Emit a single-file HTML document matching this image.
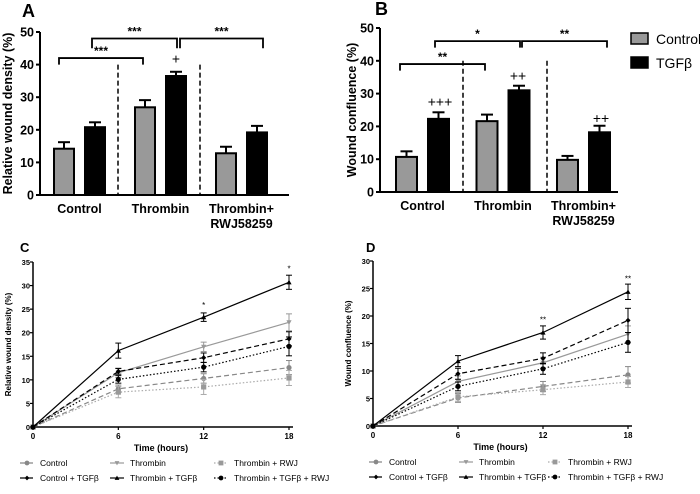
<!DOCTYPE html>
<html><head><meta charset="utf-8"><style>
body{margin:0;background:#fff;width:700px;height:489px;overflow:hidden}
svg{font-family:"Liberation Sans",Arial,sans-serif}
</style></head><body>
<svg id="fig" width="700" height="489" viewBox="0 0 700 489"></svg>
<script>
// ---- Panel A/B bar data ----
const barGroups = ["Control","Thrombin","Thrombin+"];
const aCtrl = [14.2, 26.9, 12.8];
const aCtrlErr = [2.0, 2.2, 2.0];
const aTgf = [20.8, 36.5, 19.2];
const aTgfErr = [1.5, 1.3, 2.0];
const bCtrl = [10.7, 21.6, 9.8];
const bCtrlErr = [1.7, 2.0, 1.2];
const bTgf = [22.3, 31.0, 18.2];
const bTgfErr = [2.0, 1.4, 2.0];
const barTicks = [0,10,20,30,40,50];
// ---- Panel C/D line data ----
const times = [0,6,12,18];
const seriesNames = ["Control","Thrombin","Thrombin + RWJ","Control + TGFβ","Thrombin + TGFβ","Thrombin + TGFβ + RWJ"];
const cControl = [0,8.1,10.3,12.6];
const cThrombin = [0,11.5,17.0,22.2];
const cThrRwj = [0,7.4,8.5,10.4];
const cCtrlTgf = [0,11.8,14.7,18.7];
const cThrTgf = [0,16.2,23.3,30.7];
const cThrTgfRwj = [0,10.1,12.7,17.1];
const cErr = [[0,0.8,1,1.5],[0,1,1,1.8],[0,1.2,1.6,1.6],[0,0.6,1,1.5],[0,1.6,0.9,1.5],[0,0.8,1,2]];
const dControl = [0,5.1,7.2,9.3];
const dThrombin = [0,8.1,11.5,16.7];
const dThrRwj = [0,5.3,6.6,8.0];
const dCtrlTgf = [0,9.5,12.3,19.2];
const dThrTgf = [0,11.8,17.0,24.4];
const dThrTgfRwj = [0,7.2,10.4,15.2];
const dErr = [[0,0.8,0.9,1.5],[0,1,1,1.5],[0,0.8,0.9,1],[0,1,1,2.2],[0,1,1.2,1.4],[0,0.8,1,1.8]];
const cTicks = [0,5,10,15,20,25,30,35];
const dTicks = [0,5,10,15,20,25,30];

const NS="http://www.w3.org/2000/svg";
const svg=document.getElementById('fig');
function el(tag,attrs,parent,text){const e=document.createElementNS(NS,tag);for(const k in attrs)e.setAttribute(k,attrs[k]);if(text!==undefined)e.textContent=text;(parent||svg).appendChild(e);return e;}

function barPanel(opts){
  const g=el('g',{});
  
  
  const y=v=>opts.y0-(v/50)*(opts.y0-opts.y50);
  const L=el('text',{x:opts.labX,y:opts.labY,'font-size':18,'font-weight':'bold'},g,opts.letter);
  
  el('line',{x1:opts.ax,y1:opts.y50,x2:opts.ax,y2:opts.y0,stroke:'#000','stroke-width':2},g);
  el('line',{x1:opts.ax,y1:opts.y0,x2:opts.axEnd,y2:opts.y0,stroke:'#000','stroke-width':2},g);
  barTicks.forEach(t=>{
    el('line',{x1:opts.ax-4,y1:y(t),x2:opts.ax,y2:y(t),stroke:'#000','stroke-width':2},g);
    const tx=el('text',{x:opts.ax-6,y:y(t)+4.5,'font-size':12.5,'font-weight':'bold','text-anchor':'end'},g,t);
    
  });
  const yl=el('text',{x:0,y:0,'font-size':12.5,'font-weight':'bold','text-anchor':'middle',transform:`translate(${opts.ylX},${(opts.y0+opts.y50)/2}) rotate(-90)`},g,opts.ytitle);
  
  barGroups.forEach((c,i)=>{
    const gx=opts.g0+i*opts.gStep;
    [[opts.ctrl,opts.ctrlErr,'#999',0],[opts.tgf,opts.tgfErr,'#000',1]].forEach(([vals,err,fill,j])=>{
      const x=gx+j*opts.pair;
      const r=el('rect',{x:x,y:y(vals[i]),width:opts.bw,height:opts.y0-y(vals[i]),fill:fill,stroke:'#000','stroke-width':2},g);
      
      
      const cx=x+opts.bw/2, ye=y(vals[i]+err[i]);
      el('line',{x1:cx,y1:y(vals[i]),x2:cx,y2:ye,stroke:'#000','stroke-width':2},g);
      el('line',{x1:cx-6,y1:ye,x2:cx+6,y2:ye,stroke:'#000','stroke-width':2},g);
    });
    const cl=el('text',{x:gx+opts.pair/2+opts.bw/2,y:opts.y0+18,'font-size':12.5,'font-weight':'bold','text-anchor':'middle'},g,c);
    
  });
  const r2=el('text',{x:opts.g0+2*opts.gStep+opts.pair/2+opts.bw/2,y:opts.y0+33,'font-size':12.5,'font-weight':'bold','text-anchor':'middle'},g,'RWJ58259');
  
  opts.dash.forEach(dx=>el('line',{x1:dx,y1:y(40),x2:dx,y2:opts.y0,stroke:'#000','stroke-width':1.5,'stroke-dasharray':'5,3'},g));
  opts.brackets.forEach(b=>{
    el('path',{d:`M${b[0]},${y(b[3])} V${y(b[2])} H${b[1]} V${y(b[3])}`,fill:'none',stroke:'#000','stroke-width':1.8},g);
    const s=el('text',{x:(b[0]+b[1])/2,y:y(b[2])-3,'font-size':12,'font-weight':'bold','text-anchor':'middle'},g,b[4]);
    
  });
  opts.plus.forEach(p=>{const s=el('text',{x:p[0],y:y(p[1]),'font-size':14,'text-anchor':'middle'},g,p[2]);
    });
}
barPanel({name:'panel-a-bar-chart',letter:'A',labX:22,labY:17,ax:40,axEnd:289,y0:195,y50:32,ylX:12,ytitle:'Relative wound density (%)',
  g0:54,gStep:81,pair:31,bw:20,ctrl:aCtrl,ctrlErr:aCtrlErr,tgf:aTgf,tgfErr:aTgfErr,dash:[118,200],
  brackets:[[59,143,42,40,'***'],[92,177,48,45,'***'],[180,263,48,45,'***']],plus:[[176,40.3,'+']]});
barPanel({name:'panel-b-bar-chart',letter:'B',labX:375,labY:15,ax:380,axEnd:618,y0:192,y50:28,ylX:356,ytitle:'Wound confluence (%)',
  g0:396,gStep:80.5,pair:32,bw:21,ctrl:bCtrl,ctrlErr:bCtrlErr,tgf:bTgf,tgfErr:bTgfErr,dash:[463,547],
  brackets:[[400,485,39,37,'**'],[435,520,46,44,'*'],[522,607,46,44,'**']],plus:[[440,26,'+++'],[518,34,'++'],[601,21,'++']]});
// bar legend
[['Control','#999',33],['TGFβ','#000',57]].forEach(([t,f,yy])=>{
  const r=el('rect',{x:631,y:yy,width:17,height:11,fill:f,stroke:'#000','stroke-width':1.5});
  
  const tx=el('text',{x:656,y:yy+11,'font-size':14},svg,t);
  
});

// line panels
const styles=[
 {c:'#888',d:'5,3',m:'circle',mc:'#888'},
 {c:'#999',d:'',m:'tri-down',mc:'#999'},
 {c:'#aaa',d:'1.5,2',m:'square',mc:'#999'},
 {c:'#000',d:'5,3',m:'diamond',mc:'#000'},
 {c:'#000',d:'',m:'tri-up',mc:'#000'},
 {c:'#000',d:'1.5,2',m:'circle',mc:'#000'}];
function marker(g,type,x,y,col,s){
  s=s||2.6;
  if(type==='circle')return el('circle',{cx:x,cy:y,r:s,fill:col},g);
  if(type==='square')return el('rect',{x:x-s,y:y-s,width:2*s,height:2*s,fill:col},g);
  if(type==='diamond')return el('path',{d:`M${x},${y-s} L${x+s},${y} L${x},${y+s} L${x-s},${y}Z`,fill:col},g);
  if(type==='tri-up')return el('path',{d:`M${x},${y-s} L${x+s},${y+s*0.8} L${x-s},${y+s*0.8}Z`,fill:col},g);
  return el('path',{d:`M${x},${y+s} L${x+s},${y-s*0.8} L${x-s},${y-s*0.8}Z`,fill:col},g);
}
function linePanel(o){
  const g=el('g',{});
  
  
  const ymax=o.ticks[o.ticks.length-1];
  const X=t=>o.ax+(t/18)*(o.axEnd-o.ax);
  const Y=v=>o.y0-(v/ymax)*(o.y0-o.yTop);
  const L=el('text',{x:o.labX,y:o.labY,'font-size':13,'font-weight':'bold'},g,o.letter);
  
  el('line',{x1:o.ax,y1:o.yTop,x2:o.ax,y2:o.y0,stroke:'#000','stroke-width':1.5},g);
  el('line',{x1:o.ax,y1:o.y0,x2:o.axEnd+4,y2:o.y0,stroke:'#000','stroke-width':1.5},g);
  o.ticks.forEach(t=>{
    el('line',{x1:o.ax-3,y1:Y(t),x2:o.ax,y2:Y(t),stroke:'#000','stroke-width':1.2},g);
    const tx=el('text',{x:o.ax-3,y:Y(t)+3,'font-size':7.5,'font-weight':'bold','text-anchor':'end'},g,t);
    
  });
  times.forEach(t=>{
    el('line',{x1:X(t),y1:o.y0,x2:X(t),y2:o.y0+3,stroke:'#000','stroke-width':1.2},g);
    const tx=el('text',{x:X(t),y:o.y0+12,'font-size':8,'font-weight':'bold','text-anchor':'middle'},g,t);
    
  });
  const xt=el('text',{x:(o.ax+o.axEnd)/2,y:o.y0+24,'font-size':9,'font-weight':'bold','text-anchor':'middle'},g,'Time (hours)');
  
  const yt=el('text',{x:0,y:0,'font-size':8,'font-weight':'bold','text-anchor':'middle',transform:`translate(${o.ax-22},${(o.y0+o.yTop)/2}) rotate(-90)`},g,o.ytitle);
  
  o.data.forEach((vals,si)=>{
    const st=styles[si];
    const p=el('polyline',{points:vals.map((v,i)=>X(times[i])+','+Y(v)).join(' '),fill:'none',stroke:st.c,'stroke-width':1.2,'stroke-dasharray':st.d},g);
    
    
    vals.forEach((v,i)=>{
      const e=o.err[si][i];
      if(e>0){
        el('line',{x1:X(times[i]),y1:Y(v-e),x2:X(times[i]),y2:Y(v+e),stroke:st.c,'stroke-width':1},g);
        [v-e,v+e].forEach(w=>el('line',{x1:X(times[i])-3,y1:Y(w),x2:X(times[i])+3,y2:Y(w),stroke:st.c,'stroke-width':1},g));
      }
      const m=marker(g,st.m,X(times[i]),Y(v),st.mc);
      
    });
  });
  o.stars.forEach(s=>{const tx=el('text',{x:X(s[0]),y:Y(s[1]),'font-size':8,'text-anchor':'middle'},g,s[2]);
    });
  seriesNames.forEach((n,si)=>{
    const st=styles[si];const lx=o.cols[si%3], ly=o.y0+(si<3?36:51);
    el('line',{x1:lx,y1:ly,x2:lx+14,y2:ly,stroke:st.c,'stroke-width':1.2,'stroke-dasharray':st.d},g);
    marker(g,st.m,lx+7,ly,st.mc,2.4);
    const tx=el('text',{x:lx+20,y:ly+3,'font-size':8.5},g,n);
    
  });
}
linePanel({name:'panel-c-line-chart',letter:'C',labX:20,labY:252,ax:33,axEnd:289,y0:427,yTop:262,ticks:cTicks,ytitle:'Relative wound density (%)',cols:[20,110,214],
  data:[cControl,cThrombin,cThrRwj,cCtrlTgf,cThrTgf,cThrTgfRwj],err:cErr,stars:[[12,25.2,'*'],[18,33,'*']]});
linePanel({name:'panel-d-line-chart',letter:'D',labX:366,labY:252,ax:373,axEnd:628,y0:426,yTop:261,ticks:dTicks,ytitle:'Wound confluence (%)',cols:[369,459,548],
  data:[dControl,dThrombin,dThrRwj,dCtrlTgf,dThrTgf,dThrTgfRwj],err:dErr,stars:[[12,18.8,'**'],[18,26.3,'**']]});
</script>
</body></html>
